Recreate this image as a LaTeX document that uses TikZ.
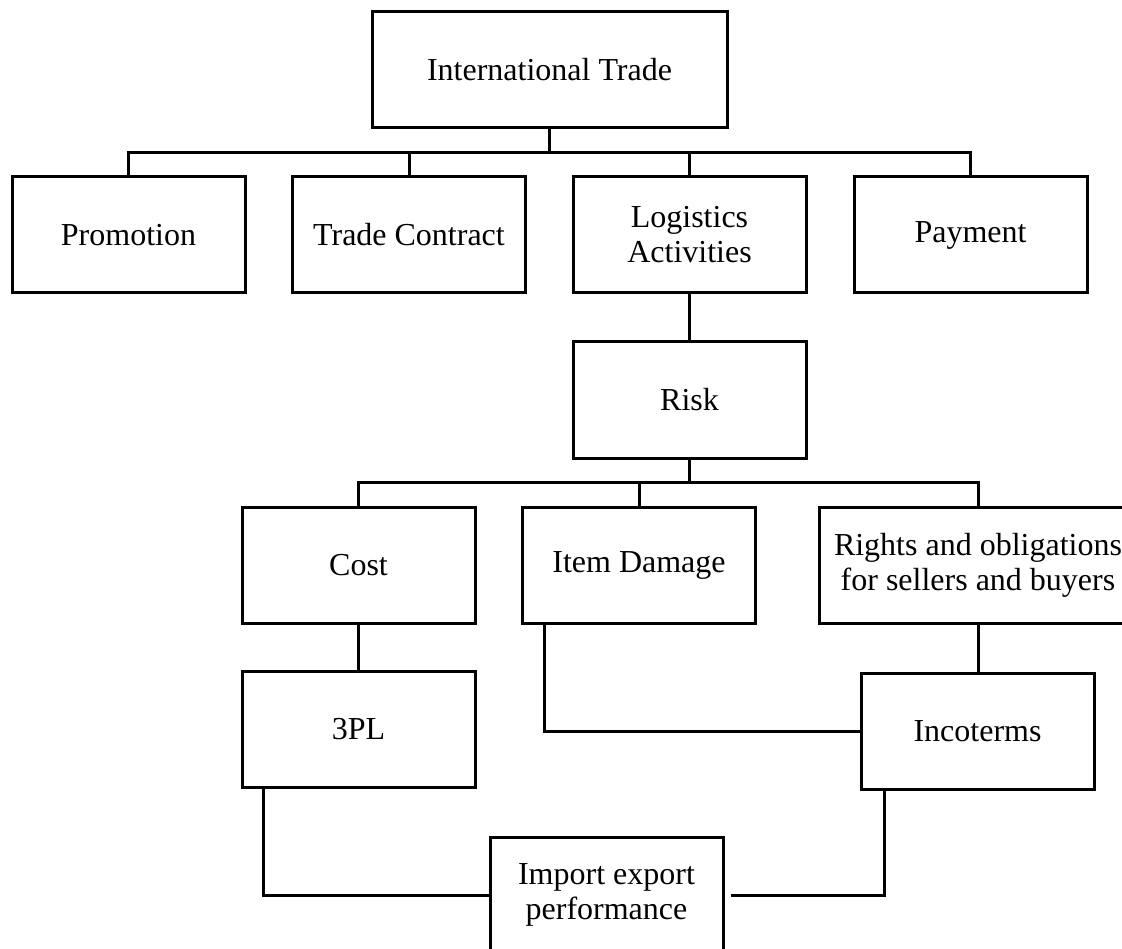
\documentclass[tikz,border=0pt]{standalone}
\usepackage{fontspec}
\setmainfont{Liberation Serif}
\begin{document}
\begin{tikzpicture}[x=1pt,y=-1pt,
  box/.style={draw,line width=3pt,minimum height=116pt,minimum width=233pt,align=center,inner sep=0pt,font=\fontsize{32}{35}\selectfont},
  conn/.style={line width=3pt}]
\useasboundingbox (0,0) rectangle (1122,949);
\node[box,minimum width=355pt] (it) at (549.5,70) {International Trade};
\node[box] (promo) at (128.5,235) {Promotion};
\node[box] (tc) at (409,235) {Trade Contract};
\node[box] (log) at (689.5,235) {Logistics\\Activities};
\node[box] (pay) at (970.5,235) {Payment};
\node[box] (risk) at (689.5,400) {Risk};
\node[box] (cost) at (358.5,565) {Cost};
\node[box] (dmg) at (639,565) {Item Damage};
\node[box,minimum width=318pt] (rights) at (978,565) {Rights and obligations\\for sellers and buyers};
\node[box] (tpl) at (358.5,729.5) {3PL};
\node[box] (inco) at (977.5,731) {Incoterms};
\node[box] (imp) at (606.5,895) {Import export\\performance};
\coordinate (b1) at (549.5,153);
\coordinate (b2) at (689.5,482);
\draw[conn] (it.south) -- (b1);
\draw[conn] (promo.north) |- (b1);
\draw[conn] (pay.north) |- (b1);
\draw[conn] (tc.north) -- (tc.north |- b1);
\draw[conn] (log.north) -- (log.north |- b1);
\draw[conn] (log.south) -- (risk.north);
\draw[conn] (risk.south) -- (b2);
\draw[conn] (cost.north) |- (b2);
\draw[conn] (rights.north) |- (b2);
\draw[conn] (dmg.north) -- (dmg.north |- b2);
\draw[conn] (cost.south) -- (tpl.north);
\draw[conn] (rights.south) -- (rights.south |- inco.north);
\draw[conn] ([xshift=23pt]dmg.south west) |- (inco.west);
\draw[conn] ([xshift=23pt]tpl.south west) |- (imp.west);
\draw[conn] ([xshift=25pt]inco.south west) |- ([xshift=6pt]imp.east);
\end{tikzpicture}
\end{document}
